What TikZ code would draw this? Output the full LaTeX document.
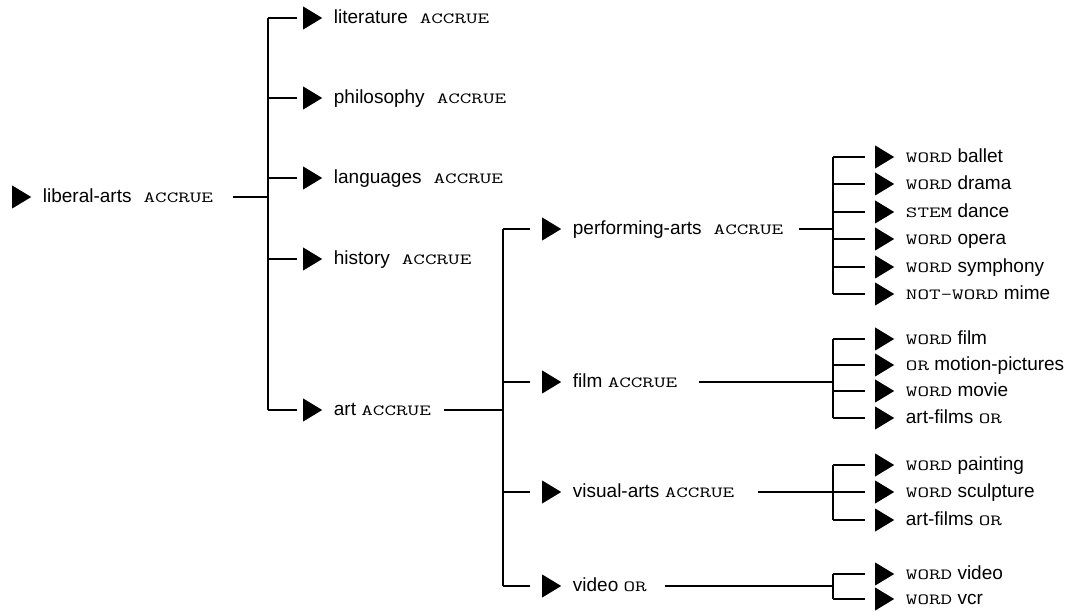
\documentclass[tikz,border=0pt]{standalone}
\usepackage{fontspec}
\setmainfont{Liberation Sans}
\usepackage{graphicx}
\usetikzlibrary{positioning,shapes.geometric}
\newcommand{\kw}[1]{\scalebox{1.45}[1]{\ttfamily\fontsize{15.5pt}{15.5pt}\selectfont #1}}
\newcommand{\kwafter}[1]{\hspace{12pt}\kw{#1}}

\begin{document}
\begin{tikzpicture}[x=1pt,y=-1pt,
    pointer/.style={isosceles triangle, isosceles triangle stretches, shape border rotate=0,
      minimum width=23pt, minimum height=19pt, inner sep=0pt, fill=black, anchor=west},
    entry/.style={inner sep=0pt, text height=15pt, text depth=4pt,
      font=\fontsize{19pt}{22pt}\selectfont},
    tree/.style={line width=1.3pt}]
    \useasboundingbox (0,0) rectangle (1088,612);

    % Root
    \node[pointer] (root-p) at (12,197) {};
    \node[entry, right=11pt of root-p] (root) {liberal-arts\kwafter{ACCRUE}};

    % First level
    \node[pointer] (lit-p) at (303,18) {};
    \node[entry, right=11pt of lit-p] (lit) {literature\kwafter{ACCRUE}};
    \node[pointer] (phil-p) at (303,98) {};
    \node[entry, right=11pt of phil-p] (phil) {philosophy\kwafter{ACCRUE}};
    \node[pointer] (lang-p) at (303,178) {};
    \node[entry, right=11pt of lang-p] (lang) {languages\kwafter{ACCRUE}};
    \node[pointer] (hist-p) at (303,259) {};
    \node[entry, right=11pt of hist-p] (hist) {history\kwafter{ACCRUE}};
    \node[pointer] (art-p) at (303,410) {};
    \node[entry, right=11pt of art-p] (art) {art \kw{ACCRUE}};

    % Second level
    \node[pointer] (perf-p) at (542,229) {};
    \node[entry, right=11pt of perf-p] (perf) {performing-arts\kwafter{ACCRUE}};
    \node[pointer] (film-p) at (542,382) {};
    \node[entry, right=11pt of film-p] (film) {film \kw{ACCRUE}};
    \node[pointer] (visual-p) at (542,492) {};
    \node[entry, right=11pt of visual-p] (visual) {visual-arts \kw{ACCRUE}};
    \node[pointer] (video-p) at (542,586) {};
    \node[entry, right=11pt of video-p] (video) {video \kw{OR}};

    % Third level: performing arts
    \node[pointer] (ballet-p) at (875,157) {};
    \node[entry, right=11pt of ballet-p] (ballet) {\kw{WORD} ballet};
    \node[pointer] (drama-p) at (875,184) {};
    \node[entry, right=11pt of drama-p] (drama) {\kw{WORD} drama};
    \node[pointer] (dance-p) at (875,212) {};
    \node[entry, right=11pt of dance-p] (dance) {\kw{STEM} dance};
    \node[pointer] (opera-p) at (875,239) {};
    \node[entry, right=11pt of opera-p] (opera) {\kw{WORD} opera};
    \node[pointer] (symph-p) at (875,267) {};
    \node[entry, right=11pt of symph-p] (symph) {\kw{WORD} symphony};
    \node[pointer] (mime-p) at (875,294) {};
    \node[entry, right=11pt of mime-p] (mime) {\kw{NOT-WORD} mime};

    % Third level: film
    \node[pointer] (wfilm-p) at (875,339) {};
    \node[entry, right=11pt of wfilm-p] (wfilm) {\kw{WORD} film};
    \node[pointer] (motion-p) at (875,365) {};
    \node[entry, right=11pt of motion-p] (motion) {\kw{OR} motion-pictures};
    \node[pointer] (movie-p) at (875,391) {};
    \node[entry, right=11pt of movie-p] (movie) {\kw{WORD} movie};
    \node[pointer] (artfilms-p) at (875,418) {};
    \node[entry, right=11pt of artfilms-p] (artfilms) {art-films \kw{OR}};

    % Third level: visual arts
    \node[pointer] (paint-p) at (875,465) {};
    \node[entry, right=11pt of paint-p] (paint) {\kw{WORD} painting};
    \node[pointer] (sculpt-p) at (875,492) {};
    \node[entry, right=11pt of sculpt-p] (sculpt) {\kw{WORD} sculpture};
    \node[pointer] (artfilmsb-p) at (875,520) {};
    \node[entry, right=11pt of artfilmsb-p] (artfilmsb) {art-films \kw{OR}};

    % Third level: video
    \node[pointer] (wvideo-p) at (875,574) {};
    \node[entry, right=11pt of wvideo-p] (wvideo) {\kw{WORD} video};
    \node[pointer] (vcr-p) at (875,599) {};
    \node[entry, right=11pt of vcr-p] (vcr) {\kw{WORD} vcr};

    % Junctions
    \coordinate (j1) at (268,0);
    \coordinate (j2) at (503,0);
    \coordinate (j3) at (833,0);

    % Root branches
    \draw[tree] ([xshift=20pt]root.east) -- (root.east -| j1);
    \draw[tree] (lit-p.west -| j1) -- (art-p.west -| j1);
    \foreach \c in {lit,phil,lang,hist,art}
        \draw[tree] (\c-p.west -| j1) -- ([xshift=-6pt]\c-p.west);

    % Art branches
    \draw[tree] ([xshift=13pt]art.east) -- (art.east -| j2);
    \draw[tree] (perf-p.west -| j2) -- (video-p.west -| j2);
    \foreach \c in {perf,film,visual,video}
        \draw[tree] (\c-p.west -| j2) -- ([xshift=-12pt]\c-p.west);

    % Leaf branches
    \draw[tree] ([xshift=16pt]perf.east) -- (perf.east -| j3);
    \draw[tree] (ballet-p.west -| j3) -- (mime-p.west -| j3);
    \draw[tree] ([xshift=22pt]film.east) -- (film.east -| j3);
    \draw[tree] (wfilm-p.west -| j3) -- (artfilms-p.west -| j3);
    \draw[tree] ([xshift=24pt]visual.east) -- (visual.east -| j3);
    \draw[tree] (paint-p.west -| j3) -- (artfilmsb-p.west -| j3);
    \draw[tree] ([xshift=18pt]video.east) -- (video.east -| j3);
    \draw[tree] (wvideo-p.west -| j3) -- (vcr-p.west -| j3);
    \foreach \c in {ballet,drama,dance,opera,symph,mime,wfilm,motion,movie,artfilms,paint,sculpt,artfilmsb,wvideo,vcr}
        \draw[tree] (\c-p.west -| j3) -- ([xshift=-10pt]\c-p.west);
\end{tikzpicture}
\end{document}
